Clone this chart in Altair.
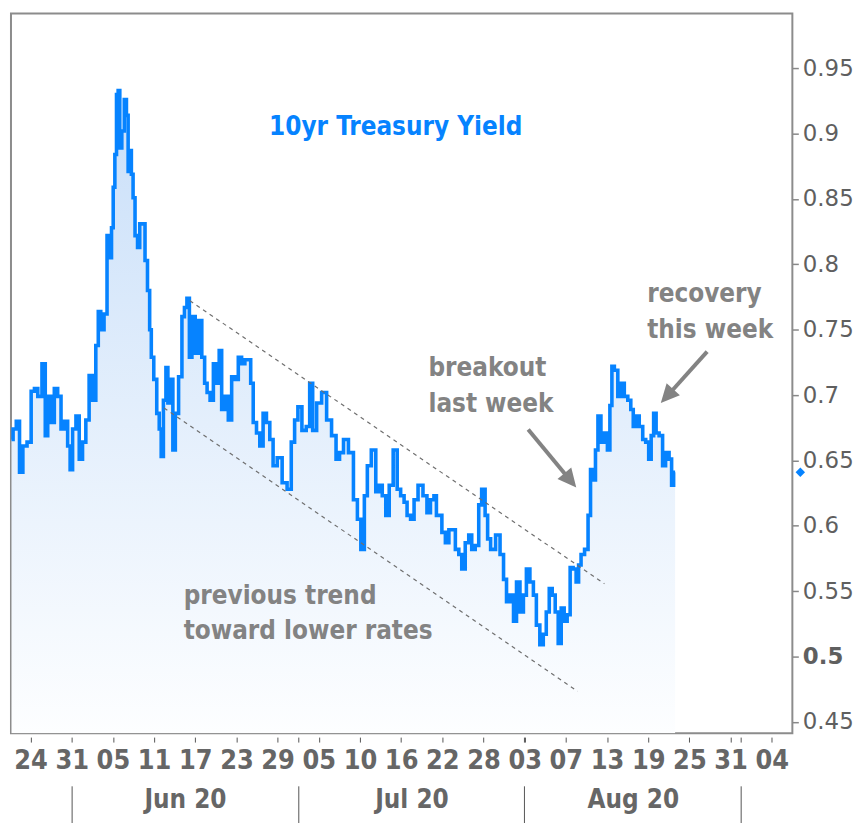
import altair as alt
import pandas as pd

# ---- data (x = trading-session index, 0 = the "24 May" tick) ----
sess = [-1.85, -1.54, -1.23, -0.91, -0.58, -0.10, 0.22, 0.54, 0.87, 1.35, 1.51, 1.83, 2.15, 2.47, 2.80,
        3.12, 3.44, 3.77, 3.92, 4.25, 4.57, 4.89, 5.21, 5.53, 5.85, 6.18, 6.50, 6.66, 6.98, 7.30,
        7.56, 7.78, 7.95, 8.11, 8.27, 8.43, 8.59, 8.75, 8.98, 9.23, 9.40, 9.56, 9.71, 9.88, 10.04,
        10.26, 10.53, 10.68, 11.01, 11.23, 11.49, 11.65, 11.81, 12.13, 12.39, 12.61, 12.77, 13.04, 13.26, 13.42,
        13.74, 13.91, 14.22, 14.54, 14.87, 15.03, 15.35, 15.51, 15.84, 16.15, 16.47, 16.80, 17.02, 17.28, 17.60,
        17.92, 18.25, 18.40, 18.73, 19.05, 19.37, 19.70, 20.02, 20.34, 20.66, 20.98, 21.30, 21.47, 21.79, 22.11,
        22.43, 22.75, 23.08, 23.40, 23.72, 24.20, 24.68, 25.16, 25.49, 25.81, 26.13, 26.59, 26.97, 27.26, 27.55,
        28.03, 28.52, 29.00, 29.48, 29.87, 30.16, 30.64, 31.12, 31.61, 31.89, 32.28, 32.57, 32.86, 33.34, 33.73,
        34.02, 34.31, 34.70, 34.98, 35.47, 35.76, 36.14, 36.43, 36.72, 37.11, 37.40, 37.88, 38.36, 38.65, 39.04,
        39.33, 39.52, 39.81, 40.10, 40.49, 40.78, 41.07, 41.46, 41.74, 42.03, 42.42, 42.71, 43.00, 43.39, 43.68,
        43.96, 44.35, 44.45, 44.93, 45.41, 45.80, 46.09, 46.38, 46.77, 47.06, 47.35, 47.73, 48.02, 48.31, 48.70,
        48.99, 49.28, 49.66, 49.95, 50.24, 50.53, 50.82, 51.11, 51.40, 51.69, 51.98, 52.27, 52.56, 52.85, 53.14,
        53.33, 53.62, 54.01, 54.30, 54.49, 54.78, 54.97, 55.26, 55.55, 55.94, 56.13, 56.42, 56.52, 56.90, 57.19,
        57.48, 57.87, 58.16, 58.45, 58.64, 58.93, 59.32, 59.61, 59.90, 60.19, 60.38, 60.67, 60.86, 61.25, 61.54,
        61.83, 62.22, 62.32, 62.61]
yld = [0.666, 0.674, 0.680, 0.641, 0.661, 0.664, 0.703, 0.705, 0.699, 0.724, 0.669, 0.699, 0.679, 0.705, 0.699,
       0.674, 0.680, 0.661, 0.643, 0.674, 0.684, 0.651, 0.664, 0.681, 0.715, 0.696, 0.738, 0.764, 0.750, 0.762,
       0.822, 0.805, 0.828, 0.859, 0.884, 0.930, 0.933, 0.889, 0.902, 0.926, 0.914, 0.871, 0.887, 0.869, 0.851,
       0.822, 0.813, 0.831, 0.831, 0.803, 0.780, 0.750, 0.729, 0.712, 0.686, 0.674, 0.653, 0.696, 0.721, 0.694,
       0.712, 0.658, 0.686, 0.714, 0.760, 0.767, 0.774, 0.729, 0.760, 0.732, 0.757, 0.729, 0.709, 0.702, 0.696,
       0.724, 0.709, 0.734, 0.689, 0.699, 0.681, 0.714, 0.712, 0.729, 0.724, 0.727, 0.727, 0.709, 0.679, 0.671,
       0.661, 0.686, 0.679, 0.666, 0.646, 0.652, 0.633, 0.628, 0.664, 0.681, 0.691, 0.673, 0.676, 0.709, 0.673,
       0.694, 0.702, 0.681, 0.669, 0.651, 0.656, 0.666, 0.656, 0.620, 0.605, 0.582, 0.623, 0.646, 0.658, 0.626,
       0.631, 0.623, 0.608, 0.631, 0.658, 0.628, 0.623, 0.618, 0.608, 0.605, 0.620, 0.631, 0.623, 0.610, 0.620,
       0.623, 0.608, 0.608, 0.595, 0.587, 0.597, 0.597, 0.582, 0.578, 0.567, 0.587, 0.593, 0.582, 0.585, 0.616,
       0.628, 0.608, 0.590, 0.582, 0.593, 0.578, 0.559, 0.542, 0.547, 0.527, 0.557, 0.534, 0.547, 0.567, 0.557,
       0.547, 0.524, 0.509, 0.517, 0.534, 0.552, 0.547, 0.534, 0.510, 0.537, 0.527, 0.532, 0.568, 0.567, 0.557,
       0.570, 0.578, 0.582, 0.608, 0.643, 0.635, 0.658, 0.684, 0.664, 0.671, 0.658, 0.692, 0.722, 0.719, 0.699,
       0.709, 0.699, 0.696, 0.689, 0.676, 0.684, 0.676, 0.666, 0.664, 0.651, 0.669, 0.686, 0.671, 0.669, 0.646,
       0.656, 0.651, 0.631, 0.641]

day_tick_pos = [0, 4, 8, 12, 16, 20, 24, 26, 28, 32, 36, 40, 44, 47.9, 48, 52, 56, 60, 64, 68, 69, 72]
day_tick_lab = ["24", "31", "05", "11", "17", "23", "29", "", "05", "10", "16", "22", "28", "", "03",
                "07", "13", "19", "25", "31", "", "04"]
month_sep = [4, 26, 47.9, 69]
month_pos = [15, 37, 58.5]
month_lab = ["Jun 20", "Jul 20", "Aug 20"]
y_ticks = [0.45, 0.55, 0.6, 0.65, 0.7, 0.75, 0.8, 0.85, 0.9, 0.95]
y_bold = [0.5]

# trend channel (start/end in session index and yield)
chan_x = [15.48, 12.97]
chan_x2 = [55.74, 53.14]
chan_y = [0.7722, 0.6901]
chan_y2 = [0.5557, 0.4734]

# annotations
note_text = ["breakout", "last week", "previous trend", "toward lower rates", "recovery", "this week"]
note_x = [38.65, 38.65, 14.87, 14.87, 59.90, 59.90]
note_y = [0.7144, 0.6871, 0.5403, 0.5132, 0.7715, 0.7433]

arrow_x = [48.34, 65.72]
arrow_y = [0.6736, 0.7332]
arrow_x2 = [52.14, 62.13]
arrow_y2 = [0.6375, 0.7018]
tip_x = [53.01, 61.22]
tip_y = [0.6293, 0.6939]
tip_angle = [140.3, 222.1]

x_dom = [-1.9, 74.0]
y_dom = [0.4414, 0.992]

BLUE = "#0683ff"
GREY = "#838383"
NARROW = "Liberation Sans Narrow, DejaVu Sans Condensed, Liberation Sans"
COND = "DejaVu Sans Condensed, DejaVu Sans"

df = pd.DataFrame({"s": sess, "v": yld})
chan = pd.DataFrame({"x": chan_x, "x2": chan_x2, "y": chan_y, "y2": chan_y2})
notes = pd.DataFrame({"s": note_x, "v": note_y, "t": note_text})
arrows = pd.DataFrame({"x": arrow_x, "x2": arrow_x2, "y": arrow_y, "y2": arrow_y2})
tips = pd.DataFrame({"s": tip_x, "v": tip_y, "a": tip_angle})
last = pd.DataFrame({"s": [x_dom[1]], "v": [yld[-1]]})
seps = pd.DataFrame({"s": month_sep})
mons = pd.DataFrame({"s": month_pos})
bold = pd.DataFrame({"v": y_bold})
ttl = pd.DataFrame({"s": [35.47], "v": [0.8992], "t": ["10yr Treasury Yield"]})

xs = alt.Scale(domain=x_dom, nice=False, zero=False)
ys = alt.Scale(domain=y_dom, nice=False, zero=False)


def arr_expr(labels, positions):
    return ("[" + ",".join("'%s'" % l for l in labels) + "][indexof(["
            + ",".join(str(p) for p in positions) + "], datum.value)]")


day_axis = alt.Axis(orient="bottom", values=day_tick_pos,
                    labelExpr=arr_expr(day_tick_lab, day_tick_pos),
                    domain=False, grid=False, ticks=True, tickSize=5, tickColor="#555555",
                    tickWidth=1, offset=4, labelPadding=6, labelFont=NARROW, labelFontSize=27,
                    labelFontWeight="bold", labelColor="#666666", labelOverlap=False,
                    labelFlush=False, labelBound=False, title=None)
sep_axis = alt.Axis(orient="bottom", values=month_sep, labels=False, domain=False, grid=False,
                    ticks=True, tickSize=37, tickColor="#555555", tickWidth=1, offset=53,
                    title=None)
mon_axis = alt.Axis(orient="bottom", values=month_pos, labelExpr=arr_expr(month_lab, month_pos),
                    ticks=False, tickSize=0, domain=False, grid=False, offset=54, labelPadding=0,
                    labelFont=NARROW, labelFontSize=26, labelFontWeight="bold",
                    labelColor="#666666", labelOverlap=False, labelFlush=False, title=None)
y_common = dict(orient="right", domain=False, ticks=True, tickSize=6, tickColor="#888888",
                tickWidth=1.5, labelFont="DejaVu Sans", labelFontSize=23, labelColor="#5f5f5f",
                labelPadding=4, grid=False, title=None, format=".2~f", labelOverlap=False,
                labelFlush=False, labelBound=False)
y_axis = alt.Axis(values=y_ticks, labelFontWeight="normal", **y_common)
y_axis_bold = alt.Axis(values=y_bold, labelFontWeight="bold", **y_common)

grad = alt.Gradient(gradient="linear",
                    stops=[alt.GradientStop(color="#c9dff9", offset=0),
                           alt.GradientStop(color="#fdfeff", offset=1)],
                    x1=1, x2=1, y1=0, y2=1)

area = alt.Chart(df).mark_area(color=grad, clip=True, interpolate="step").encode(
    x=alt.X("s:Q", scale=xs, axis=day_axis),
    y=alt.Y("v:Q", scale=ys, axis=y_axis),
    y2=alt.datum(y_dom[0]))
line = alt.Chart(df).mark_line(color=BLUE, strokeWidth=3.6, clip=True, interpolate="step",
                               strokeJoin="miter").encode(
    x=alt.X("s:Q", scale=xs, axis=None), y=alt.Y("v:Q", scale=ys, axis=None))
channel = alt.Chart(chan).mark_rule(color="#6f6f6f", strokeWidth=1.2, strokeDash=[4, 4]).encode(
    x=alt.X("x:Q", scale=xs, axis=None), x2="x2:Q",
    y=alt.Y("y:Q", scale=ys, axis=None), y2="y2:Q")
shafts = alt.Chart(arrows).mark_rule(color=GREY, strokeWidth=4).encode(
    x=alt.X("x:Q", scale=xs, axis=None), x2="x2:Q",
    y=alt.Y("y:Q", scale=ys, axis=None), y2="y2:Q")
heads = alt.Chart(tips).mark_point(shape="M0,0 L0.48,1 L-0.48,1 Z", filled=True, size=1400,
                                   color=GREY, opacity=1, strokeWidth=0).encode(
    x=alt.X("s:Q", scale=xs, axis=None), y=alt.Y("v:Q", scale=ys, axis=None),
    angle=alt.Angle("a:Q", scale=None))
text = alt.Chart(notes).mark_text(align="left", baseline="alphabetic", font=COND, fontSize=26,
                                  fontWeight="bold", color=GREY).encode(
    x=alt.X("s:Q", scale=xs, axis=None), y=alt.Y("v:Q", scale=ys, axis=None), text="t:N")
title = alt.Chart(ttl).mark_text(align="center", baseline="alphabetic", font=COND, fontSize=26,
                                 fontWeight="bold", color=BLUE).encode(
    x=alt.X("s:Q", scale=xs, axis=None), y=alt.Y("v:Q", scale=ys, axis=None), text="t:N")
diamond = alt.Chart(last).mark_point(shape="diamond", filled=True, size=90, color=BLUE,
                                     opacity=1, xOffset=8, clip=False).encode(
    x=alt.X("s:Q", scale=xs, axis=None), y=alt.Y("v:Q", scale=ys, axis=None))
sep_layer = alt.Chart(seps).mark_point(opacity=0).encode(
    x=alt.X("s:Q", scale=xs, axis=sep_axis), y=alt.value(0))
mon_layer = alt.Chart(mons).mark_point(opacity=0).encode(
    x=alt.X("s:Q", scale=xs, axis=mon_axis), y=alt.value(0))
bold_layer = alt.Chart(bold).mark_point(opacity=0).encode(
    x=alt.value(0), y=alt.Y("v:Q", scale=ys, axis=y_axis_bold))

chart = alt.layer(area, line, channel, shafts, heads, text, title, diamond, sep_layer, mon_layer,
                  bold_layer).resolve_axis(x="independent", y="independent").properties(
    width=786, height=724, padding=0
).configure_view(stroke="#8c8c8c", strokeWidth=2)

chart.save("out.html", embed_options={"renderer": "svg", "actions": False})
